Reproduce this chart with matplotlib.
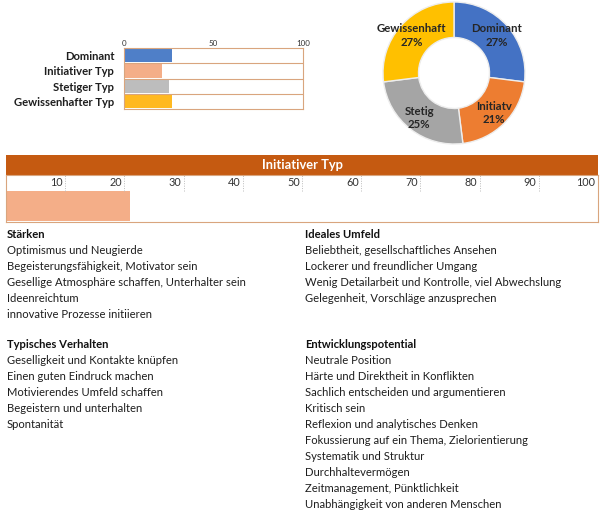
import matplotlib
matplotlib.use("Agg")
import matplotlib.pyplot as plt
import numpy as np

plt.rcParams['font.family'] = ['Lato', 'DejaVu Sans']

# --- data ---
types = ["Dominant", "Initiativer Typ", "Stetiger Typ", "Gewissenhafter Typ"]
type_values = [27, 21, 25, 27]
bar_colors = ["#4F7FC8", "#F4AE88", "#BDBDBD", "#FFB921"]

donut_labels = ["Dominant", "Initiatv", "Stetig", "Gewissenhaft"]
donut_values = [27, 21, 25, 27]
donut_colors = ["#4472C4", "#ED7D31", "#A5A5A5", "#FFC000"]

focus_title = "Initiativer Typ"
focus_value = 21
focus_ticks = [10, 20, 30, 40, 50, 60, 70, 80, 90, 100]

staerken = ["Optimismus und Neugierde",
            "Begeisterungsfähigkeit, Motivator sein",
            "Gesellige Atmosphäre schaffen, Unterhalter sein",
            "Ideenreichtum",
            "innovative Prozesse initiieren"]
umfeld = ["Beliebtheit, gesellschaftliches Ansehen",
          "Lockerer und freundlicher Umgang",
          "Wenig Detailarbeit und Kontrolle, viel Abwechslung",
          "Gelegenheit, Vorschläge anzusprechen"]
verhalten = ["Geselligkeit und Kontakte knüpfen",
             "Einen guten Eindruck machen",
             "Motivierendes Umfeld schaffen",
             "Begeistern und unterhalten",
             "Spontanität"]
entwicklung = ["Neutrale Position",
               "Härte und Direktheit in Konflikten",
               "Sachlich entscheiden und argumentieren",
               "Kritisch sein",
               "Reflexion und analytisches Denken",
               "Fokussierung auf ein Thema, Zielorientierung",
               "Systematik und Struktur",
               "Durchhaltevermögen",
               "Zeitmanagement, Pünktlichkeit",
               "Unabhängigkeit von anderen Menschen"]

W, H = 600, 512
fig = plt.figure(figsize=(W / 100, H / 100), dpi=100)
fig.patch.set_facecolor("white")
txt_col = "#1e1e1e"
border = "#D9A57E"


def px_axes(x0, y0, x1, y1):
    return fig.add_axes([x0 / W, 1 - y1 / H, (x1 - x0) / W, (y1 - y0) / H])


# small overview bars
ax = px_axes(124, 48, 303, 109)
y = np.arange(len(types))
ax.barh(y, type_values, height=0.88, color=bar_colors)
ax.set_xlim(0, 100)
ax.set_ylim(len(types) - 0.5, -0.5)
for b in np.arange(len(types) - 1) + 0.5:
    ax.axhline(b, color=border, lw=0.8)
for s in ax.spines.values():
    s.set_color(border)
    s.set_linewidth(0.8)
ax.set_yticks(y)
ax.set_yticklabels(types, fontsize=8.1, fontweight="bold", color=txt_col)
ax.set_xticks([0, 50, 100])
ax.xaxis.tick_top()
ax.tick_params(axis="x", length=0, labelsize=5.8, pad=1, labelcolor="#333333")
ax.tick_params(axis="y", length=0, pad=7)

# donut
ax = px_axes(383, 2, 525, 144)
wedges, _ = ax.pie(donut_values, colors=donut_colors, startangle=90,
                   counterclock=False, radius=1,
                   wedgeprops=dict(width=0.5, edgecolor="#EDEDED", linewidth=1))
for w, lab, v in zip(wedges, donut_labels, donut_values):
    ang = np.deg2rad((w.theta1 + w.theta2) / 2)
    r = 0.8
    ax.text(r * np.cos(ang), r * np.sin(ang), f"{lab}\n{v}%", ha="center",
            va="center", fontsize=8.2, fontweight="bold", color="#262626",
            linespacing=1.25)
ax.set_xlim(-1, 1)
ax.set_ylim(-1, 1)
ax.set_aspect("equal")

# header band
ax = px_axes(6, 155, 598, 175)
ax.set_facecolor("#C55A11")
ax.set_xticks([])
ax.set_yticks([])
for s in ax.spines.values():
    s.set_visible(False)
ax.text(0.5, 0.5, focus_title, ha="center", va="center", color="white",
        fontsize=9.3, fontweight="bold", transform=ax.transAxes)

# focus bar
ax = px_axes(6, 175, 598, 222)
ax.barh(0, focus_value, height=1, color="#F4AE88")
ax.set_xlim(0, 100)
ax.set_ylim(-0.53, 1.02)
ax.vlines(focus_ticks[:-1], 0.5, 1.02, colors="#BBBBBB", linestyles=(0, (1, 1.5)), lw=0.7)
for t in focus_ticks:
    ax.text(t - 0.4, 0.76, str(t), ha="right", va="center", fontsize=7.8,
            color="#333333")
ax.set_xticks([])
ax.set_yticks([])
for s in ax.spines.values():
    s.set_color(border)
    s.set_linewidth(0.8)


# text blocks
def block(x, y0, title, lines):
    fig.text(x / W, 1 - y0 / H, title, fontsize=8.1, fontweight="bold",
             color="#111111", va="center")
    for i, line in enumerate(lines):
        fig.text(x / W, 1 - (y0 + 16 * (i + 1)) / H, line, fontsize=8.1,
                 color=txt_col, va="center")


block(7, 234, "Stärken", staerken)
block(305, 234, "Ideales Umfeld", umfeld)
block(7, 345, "Typisches Verhalten", verhalten)
block(305, 345, "Entwicklungspotential", entwicklung)

fig.savefig("out.png", dpi=100, facecolor="white")
